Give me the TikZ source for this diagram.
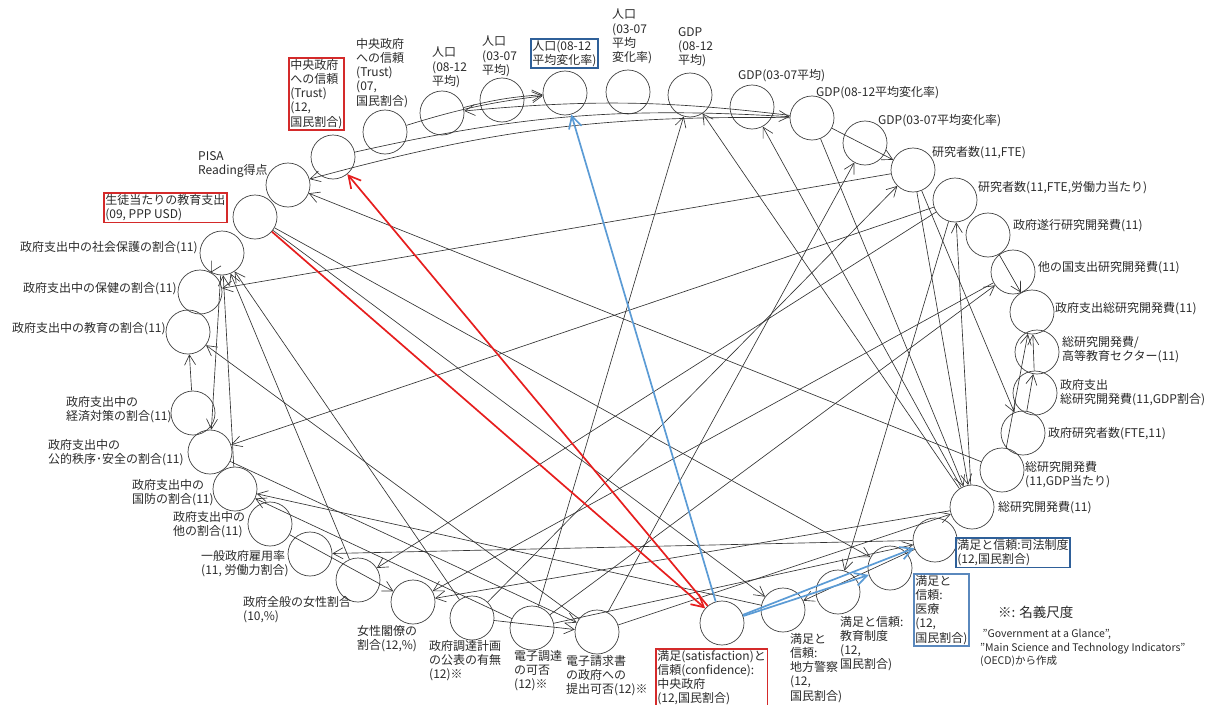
\documentclass[tikz,border=0pt]{standalone}
\usepackage{fontspec}
\setmainfont{Noto Sans CJK JP}
\usetikzlibrary{arrows.meta}
\definecolor{MarkRed}{HTML}{D42A2A}
\definecolor{MarkBlue}{HTML}{2F6099}
\definecolor{MarkSteel}{HTML}{5A88BD}
\definecolor{LinkBlue}{HTML}{5B9BD5}
\definecolor{LinkRed}{HTML}{E61E1E}
\definecolor{InkDark}{HTML}{2A2A2A}

\begin{document}
\begin{tikzpicture}[x=1pt,y=-1pt,
    every node/.style={font=\fontsize{12}{14.2}\selectfont, text=InkDark},
    vtx/.style={circle, draw=black!75, line width=0.7pt, minimum size=44pt, inner sep=0pt},
    lbl/.style={anchor=north west, align=left, inner sep=0pt},
    rbox/.style={lbl, draw=MarkRed, line width=1.6pt, inner sep=1.5pt},
    bbox/.style={lbl, draw=MarkBlue, line width=1.6pt, inner sep=1.5pt},
    ar/.style={-{Straight Barb[length=10pt,width=11pt]}, black!80, line width=0.65pt},
    rar/.style={-{Straight Barb[length=12pt,width=13pt]}, LinkRed, line width=1.7pt},
    bar/.style={-{Straight Barb[length=12pt,width=13pt]}, LinkBlue, line width=1.7pt}]
  \useasboundingbox (0,0) rectangle (1217,704);

  % circles, top arc
  \node[vtx] (T12) at (333,157) {};
  \node[vtx] (T07) at (385,132) {};
  \node[vtx] (P812) at (442,113) {};
  \node[vtx] (P307) at (502,100) {};
  \node[vtx] (PR812) at (565,93) {};
  \node[vtx] (PR307) at (628,92) {};
  \node[vtx] (G812) at (690,95) {};
  \node[vtx] (G307) at (752,107) {};
  \node[vtx] (GR812) at (812,118) {};
  \node[vtx] (GR307) at (865,143) {};
  % right side
  \node[vtx] (R1) at (913,170) {};
  \node[vtx] (R2) at (955,200) {};
  \node[vtx] (GE) at (988,235) {};
  \node[vtx] (OE) at (1013,272) {};
  \node[vtx] (GT) at (1032,312) {};
  \node[vtx] (HE) at (1037,352) {};
  \node[vtx] (GG) at (1035,393) {};
  \node[vtx] (GR) at (1023,433) {};
  \node[vtx] (RG) at (1002,470) {};
  \node[vtx] (RT) at (972,507) {};
  % bottom
  \node[vtx] (SJ) at (935,540) {};
  \node[vtx] (SM) at (890,568) {};
  \node[vtx] (SE) at (838,592) {};
  \node[vtx] (SP) at (783,610) {};
  \node[vtx] (SC) at (722,623) {};
  \node[vtx] (EI) at (597,632) {};
  \node[vtx] (EP) at (532,628) {};
  \node[vtx] (PP) at (472,618) {};
  \node[vtx] (WM) at (413,602) {};
  \node[vtx] (WG) at (358,580) {};
  \node[vtx] (EM) at (310,554) {};
  % left side
  \node[vtx] (XO) at (270,524) {};
  \node[vtx] (XD) at (235,489) {};
  \node[vtx] (XS) at (210,452) {};
  \node[vtx] (XE) at (193,413) {};
  \node[vtx] (XED) at (188,332) {};
  \node[vtx] (XH) at (200,292) {};
  \node[vtx] (XSP) at (222,253) {};
  \node[vtx] (ED) at (255,217) {};
  \node[vtx] (PISA) at (288,185) {};

  % labels
  \node[rbox] (lT12) at (288,57) {中央政府\\への信頼\\(Trust)\\(12,\\国民割合)};
  \node[lbl] (lT07) at (356,38) {中央政府\\への信頼\\(Trust)\\(07,\\国民割合)};
  \node[lbl] (lP812) at (432,47) {人口\\(08-12\\平均)};
  \node[lbl] (lP307) at (482,36) {人口\\(03-07\\平均)};
  \node[bbox] (lPR812) at (530,38) {人口(08-12\\平均変化率)};
  \node[lbl] (lPR307) at (612,9) {人口\\(03-07\\平均\\変化率)};
  \node[lbl] (lG812) at (678,27) {GDP\\(08-12\\平均)};
  \node[lbl] (lG307) at (738,69) {GDP(03-07平均)};
  \node[lbl] (lGR812) at (816,86) {GDP(08-12平均変化率)};
  \node[lbl] (lGR307) at (878,114) {GDP(03-07平均変化率)};
  \node[lbl] (lR1) at (932,146) {研究者数(11,FTE)};
  \node[lbl] (lR2) at (978,181) {研究者数(11,FTE,労働力当たり)};
  \node[lbl] (lGE) at (1013,219) {政府遂行研究開発費(11)};
  \node[lbl] (lOE) at (1038,261) {他の国支出研究開発費(11)};
  \node[lbl] (lGT) at (1055,302) {政府支出総研究開発費(11)};
  \node[lbl] (lHE) at (1062,336) {総研究開発費/\\高等教育セクター(11)};
  \node[lbl] (lGG) at (1060,379) {政府支出\\総研究開発費(11,GDP割合)};
  \node[lbl] (lGR) at (1048,427) {政府研究者数(FTE,11)};
  \node[lbl] (lRG) at (1025,461) {総研究開発費\\(11,GDP当たり)};
  \node[lbl] (lRT) at (998,501) {総研究開発費(11)};
  \node[bbox] (lSJ) at (955,537) {満足と信頼:司法制度\\(12,国民割合)};
  \node[lbl, draw=MarkSteel, line width=1.6pt, inner sep=1.5pt] (lSM) at (913,573) {満足と\\信頼:\\医療\\(12,\\国民割合)};
  \node[lbl] (lSE) at (840,616) {満足と信頼:\\教育制度\\(12,\\国民割合)};
  \node[lbl] (lSP) at (790,633) {満足と\\信頼:\\地方警察\\(12,\\国民割合)};
  \node[rbox] (lSC) at (655,648) {満足(satisfaction)と\\信頼(confidence):\\中央政府\\(12,国民割合)};
  \node[lbl] (lEI) at (566,655) {電子請求書\\の政府への\\提出可否(12)※};
  \node[lbl] (lEP) at (514,650) {電子調達\\の可否\\(12)※};
  \node[lbl] (lPP) at (429,640) {政府調達計画\\の公表の有無\\(12)※};
  \node[lbl] (lWM) at (357,625) {女性閣僚の\\割合(12,\%)};
  \node[lbl] (lWG) at (243,596) {政府全般の女性割合\\(10,\%)};
  \node[lbl] (lEM) at (201,550) {一般政府雇用率\\(11, 労働力割合)};
  \node[lbl] (lXO) at (173,511) {政府支出中の\\他の割合(11)};
  \node[lbl] (lXD) at (132,479) {政府支出中の\\国防の割合(11)};
  \node[lbl] (lXS) at (48,439) {政府支出中の\\公的秩序･安全の割合(11)};
  \node[lbl] (lXE) at (66,396) {政府支出中の\\経済対策の割合(11)};
  \node[lbl] (lXED) at (12,322) {政府支出中の教育の割合(11)};
  \node[lbl] (lXH) at (23,282) {政府支出中の保健の割合(11)};
  \node[lbl] (lXSP) at (20,241) {政府支出中の社会保護の割合(11)};
  \node[rbox] (lED) at (103,192) {生徒当たりの教育支出\\(09, PPP USD)};
  \node[lbl] (lPISA) at (198,151) {PISA\\Reading得点};

  % notes
  \node[lbl, font=\fontsize{13.5}{15}\selectfont] (note) at (998,606) {※: 名義尺度};
  \node[lbl, font=\fontsize{10.5}{13.5}\selectfont] (src) at (980,629)
    {~\symbol{"22}Government at a Glance\symbol{"22},\\\symbol{"22}Main Science and Technology Indicators\symbol{"22}\\(OECD)から作成};

  % black links
  \draw[ar] (RG) -- (PISA); \draw[ar] (R1) -- (XH); \draw[ar] (R2) -- (XS);
  \draw[ar] (EI) -- (XED); \draw[ar] (PP) -- (XSP); \draw[ar] (SP) -- (XD);
  \draw[ar] (SJ) -- (EM); \draw[ar] (R2) -- (WG); \draw[ar] (PP) -- (R1);
  \draw[ar] (EP) -- (G812); \draw[ar] (RT) -- (G812); \draw[ar] (RT) -- (G307);
  \draw[ar] (EI) -- (GR307); \draw[ar] (R2) -- (SE); \draw[ar] (EP) -- (OE);
  \draw[ar] (R1) -- (RT); \draw[ar] (R1) -- (GR); \draw[ar] (RT) -- (R2);
  \draw[ar] (GE) -- (GT); \draw[ar] (GR) -- (HE); \draw[ar] (GG) -- (GT);
  \draw[ar] (EI) -- (RT); \draw[ar] (RT) -- (WM); \draw[ar] (EP) -- (SJ);
  \draw[ar] (XSP) -- (XH); \draw[ar] (XSP) -- (XS); \draw[ar] (XD) -- (XSP);
  \draw[ar] (XE) -- (XED); \draw[ar] (XS) -- (EI); \draw[ar] (PP) -- (EI);
  \draw[ar] (XO) -- (WM); \draw[ar] (ED) -- (SP); \draw[ar] (ED) -- (SM);
  \draw[ar] (SJ) -- (SP); \draw[ar] (WG) -- (XSP); \draw[ar] (OE) -- (WM);
  \draw[ar] (EP) -- (XD); \draw[ar] (GR812) -- (R1); \draw[ar] (GR812) -- (RT);
  \draw[ar] (RG) -- (GT);
  % along the top arc
  \draw[ar] (GR812) to[bend right=8] (PISA);
  \draw[ar] (T12) to[bend left=8] (GR812);
  \draw[ar] (GR812) to[bend right=6] (P812);
  \draw[ar] (T07) to[bend left=5] (PR812);
  \draw[ar] (P812) to[bend left=5] (PR812);

  % marked links
  \draw[rar] (ED) -- (SC); \draw[rar] (SC) -- (T12);
  \draw[bar] (SC) -- (PR812); \draw[bar] (SC) -- (SJ); \draw[bar] (SC) -- (SM);
\end{tikzpicture}
\end{document}
